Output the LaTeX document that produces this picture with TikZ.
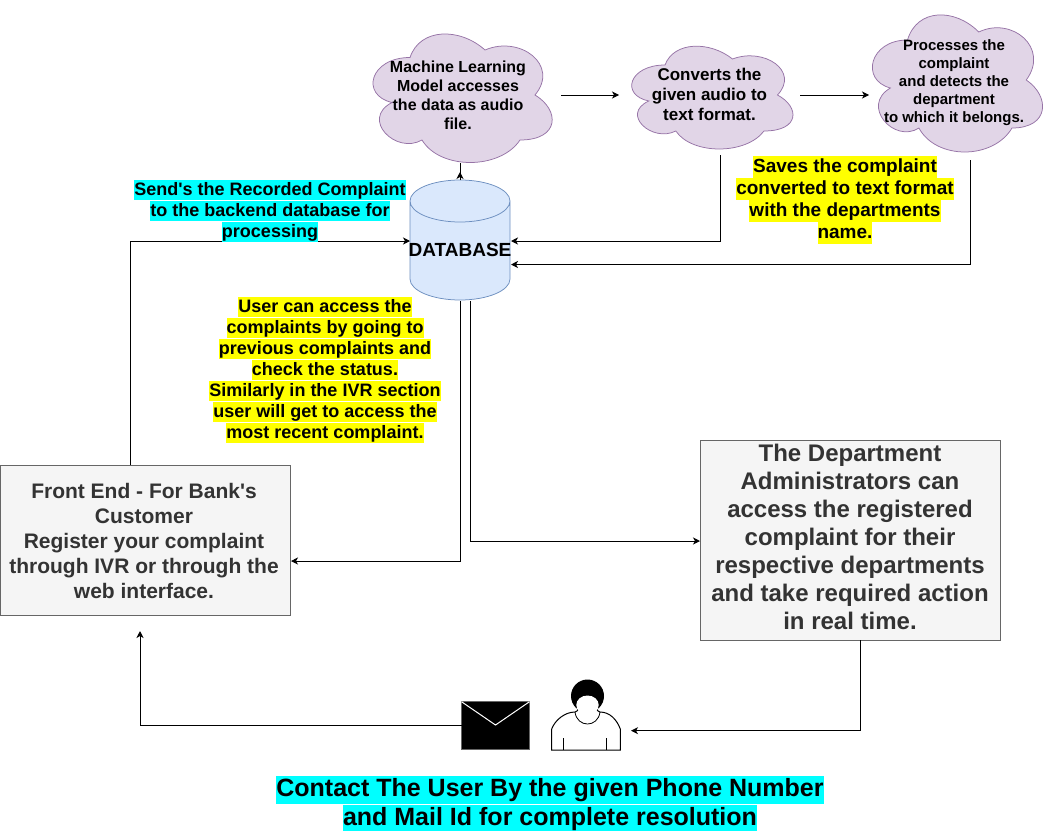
\documentclass[tikz,border=0pt]{standalone}
\usepackage{fontspec}
\setmainfont{Liberation Sans}[Ligatures=TeXOff]
\usetikzlibrary{arrows.meta}
\definecolor{cloudfill}{HTML}{E1D5E7}
\definecolor{cloudline}{HTML}{9673A6}
\definecolor{dbfill}{HTML}{DAE8FC}
\definecolor{dbline}{HTML}{6C8EBF}
\definecolor{boxfill}{HTML}{F5F5F5}
\definecolor{boxline}{HTML}{666666}
\definecolor{boxtext}{HTML}{333333}
\definecolor{notecyan}{HTML}{00FFFF}
\definecolor{noteyellow}{HTML}{FFFF00}
\setlength{\fboxsep}{0pt}
\newcommand{\hlline}[2]{\colorbox{#1}{\rule[-.28em]{0pt}{1.12em}#2}}
\newcommand{\cloudpath}[4]{\draw[cloudline,fill=cloudfill,line width=.75pt,shift={(#1,#2)},x=#3pt,y=-#4pt]
  (.25,.25) .. controls (.05,.25) and (0,.5) .. (.16,.55)
  .. controls (0,.66) and (.18,.9) .. (.31,.8)
  .. controls (.4,1) and (.7,1) .. (.8,.8)
  .. controls (1,.8) and (1,.6) .. (.875,.5)
  .. controls (1,.3) and (.8,.1) .. (.625,.2)
  .. controls (.5,.05) and (.3,.05) .. (.25,.25) -- cycle;}
\tikzset{
  flow/.style={line width=.9pt,-{Stealth[length=7pt,width=7pt,inset=2pt]}},
  cloudtext/.style={align=center,font=\bfseries\fontsize{16}{19}\selectfont,inner sep=0pt},
  notetext/.style={align=center,font=\bfseries\fontsize{18}{21}\selectfont,inner sep=0pt},
  graybox/.style={draw=boxline,fill=boxfill,text=boxtext,align=center,line width=.75pt,inner sep=0pt}
}
\begin{document}
\begin{tikzpicture}[x=1pt,y=-1pt]
    \useasboundingbox (0,0) rectangle (1052,830);

    % Clouds
    \cloudpath{360}{20}{200}{150}
    \cloudpath{620}{35}{180}{120}
    \cloudpath{860}{0}{190}{160}
    \node[cloudtext] (model) at (458,95) {Machine Learning\\Model accesses\\the data as audio\\file.};
    \node[cloudtext,font=\bfseries\fontsize{17}{20}\selectfont] (convert) at (709.5,94) {Converts the\\given audio to\\text format.};
    \node[cloudtext,font=\bfseries\fontsize{15}{18}\selectfont] (detect) at (954,82.5) {Processes the\\complaint\\and detects the\\department\\to which it belongs.};

    % Database
    \draw[dbline,fill=dbfill,line width=.75pt] (410,201) -- (410,279) arc[x radius=50pt,y radius=21pt,start angle=180,end angle=360] -- (510,201) arc[x radius=50pt,y radius=21pt,start angle=0,end angle=180] arc[x radius=50pt,y radius=21pt,start angle=180,end angle=360];
    \node[minimum width=100pt,minimum height=120pt,inner sep=0pt,outer sep=0pt] (db) at (460,240) {};
    \node[font=\bfseries\fontsize{19}{21}\selectfont,inner sep=0pt] (dbname) at (460,250) {DATABASE};

    % Grey boxes
    \node[graybox,minimum width=290pt,minimum height=150pt] (front) at (145,540) {};
    \node[text=boxtext,align=center,inner sep=0pt,font=\bfseries\fontsize{21}{25}\selectfont] (fronttext) at (144,541) {Front End - For Bank's\\Customer\\Register your complaint\\through IVR or through the\\web interface.};
    \node[graybox,minimum width=300pt,minimum height=200pt] (admin) at (850,540) {};
    \node[text=boxtext,align=center,inner sep=0pt,font=\bfseries\fontsize{24}{28}\selectfont] (admintext) at (850,537) {The Department\\Administrators can\\access the registered\\complaint for their\\respective departments\\and take required action\\in real time.};

    % Mail icon
    \node[fill=black,draw=boxline,line width=.5pt,minimum width=68pt,minimum height=48pt,inner sep=0pt,outer sep=0pt] (mail) at (495.5,725.7) {};
    \draw[white,line width=1pt] (mail.north west) -- (495.5,725) -- (mail.north east);

    % User icon
    \node[minimum width=69pt,minimum height=40pt,inner sep=0pt,outer sep=0pt] (user) at (586,730.7) {};
    \fill[black] (587.5,696) circle (16.5);
    \draw[black,fill=white,line width=1pt] (551.7,750) -- (551.7,729) .. controls (555,720) and (565,712) .. (575,712)
        .. controls (580,711) and (578,706) .. (576.5,703) .. controls (582,700) and (592,700) .. (598.5,703)
        .. controls (597,706) and (595,711) .. (600,712) .. controls (610,712) and (617,720) .. (620.3,729) -- (620.3,750) -- cycle;
    \fill[white] (587.5,705) ellipse (11.2 and 9.5);
    \draw[black,line width=.8pt] (575,712) .. controls (577,728) and (598,728) .. (600,712);
    \draw[black,line width=.8pt] (563.3,738) -- (563.3,750) (606,738) -- (606,750);
    \coordinate (userin) at (631,730.7);

    % Free ends
    \coordinate (modelout) at (561,95);
    \coordinate (convertin) at (619,95);
    \coordinate (convertout) at (800,95);
    \coordinate (detectin) at (869,95);
    \coordinate (dbup) at (460,172);
    \coordinate (modelbase) at (460,163);
    \coordinate (convertdown) at (720,155);
    \coordinate (detectdown) at (970,160);
    \coordinate (dbfirst) at (511,241);
    \coordinate (dbsecond) at (511,264.5);
    \coordinate (dbleft) at (410,241);
    \coordinate (frontup) at (130,465);
    \coordinate (dbdownA) at (460,301);
    \coordinate (dbdownB) at (470,301);
    \coordinate (frontin) at (291,561);
    \coordinate (adminin) at (700,541);
    \coordinate (admindown) at (860,640);
    \coordinate (frontback) at (140,631);

    % Arrows
    \draw[line width=.9pt] (modelbase) -- (460,180);
    \draw[flow] (460,180) -- (dbup);
    \draw[flow] (modelout) -- (convertin);
    \draw[flow] (convertout) -- (detectin);
    \draw[flow] (convertdown) |- (dbfirst);
    \draw[flow] (detectdown) |- (dbsecond);
    \draw[flow] (frontup) |- (dbleft);
    \draw[flow] (dbdownA) |- (frontin);
    \draw[flow] (dbdownB) |- (adminin);
    \draw[flow] (admindown) |- (userin);
    \draw[flow] (mail.west) -| (frontback);

    % Notes
    \node[notetext] (sendnote) at (270,211) {\hlline{notecyan}{Send's the Recorded Complaint}\\\hlline{notecyan}{to the backend database for}\\\hlline{notecyan}{processing}};
    \node[notetext,font=\bfseries\fontsize{19}{22}\selectfont] (savenote) at (845,200) {\hlline{noteyellow}{Saves the complaint}\\\hlline{noteyellow}{converted to text format}\\\hlline{noteyellow}{with the departments}\\\hlline{noteyellow}{name.}};
    \node[notetext] (usernote) at (325,370) {\hlline{noteyellow}{User can access the}\\\hlline{noteyellow}{complaints by going to}\\\hlline{noteyellow}{previous complaints and}\\\hlline{noteyellow}{check the status.}\\\hlline{noteyellow}{Similarly in the IVR section}\\\hlline{noteyellow}{user will get to access the}\\\hlline{noteyellow}{most recent complaint.}};
    \node[notetext,font=\bfseries\fontsize{25}{29}\selectfont] (contactnote) at (550,804) {\hlline{notecyan}{Contact The User By the given Phone Number}\\\hlline{notecyan}{and Mail Id for complete resolution}};
\end{tikzpicture}
\end{document}
